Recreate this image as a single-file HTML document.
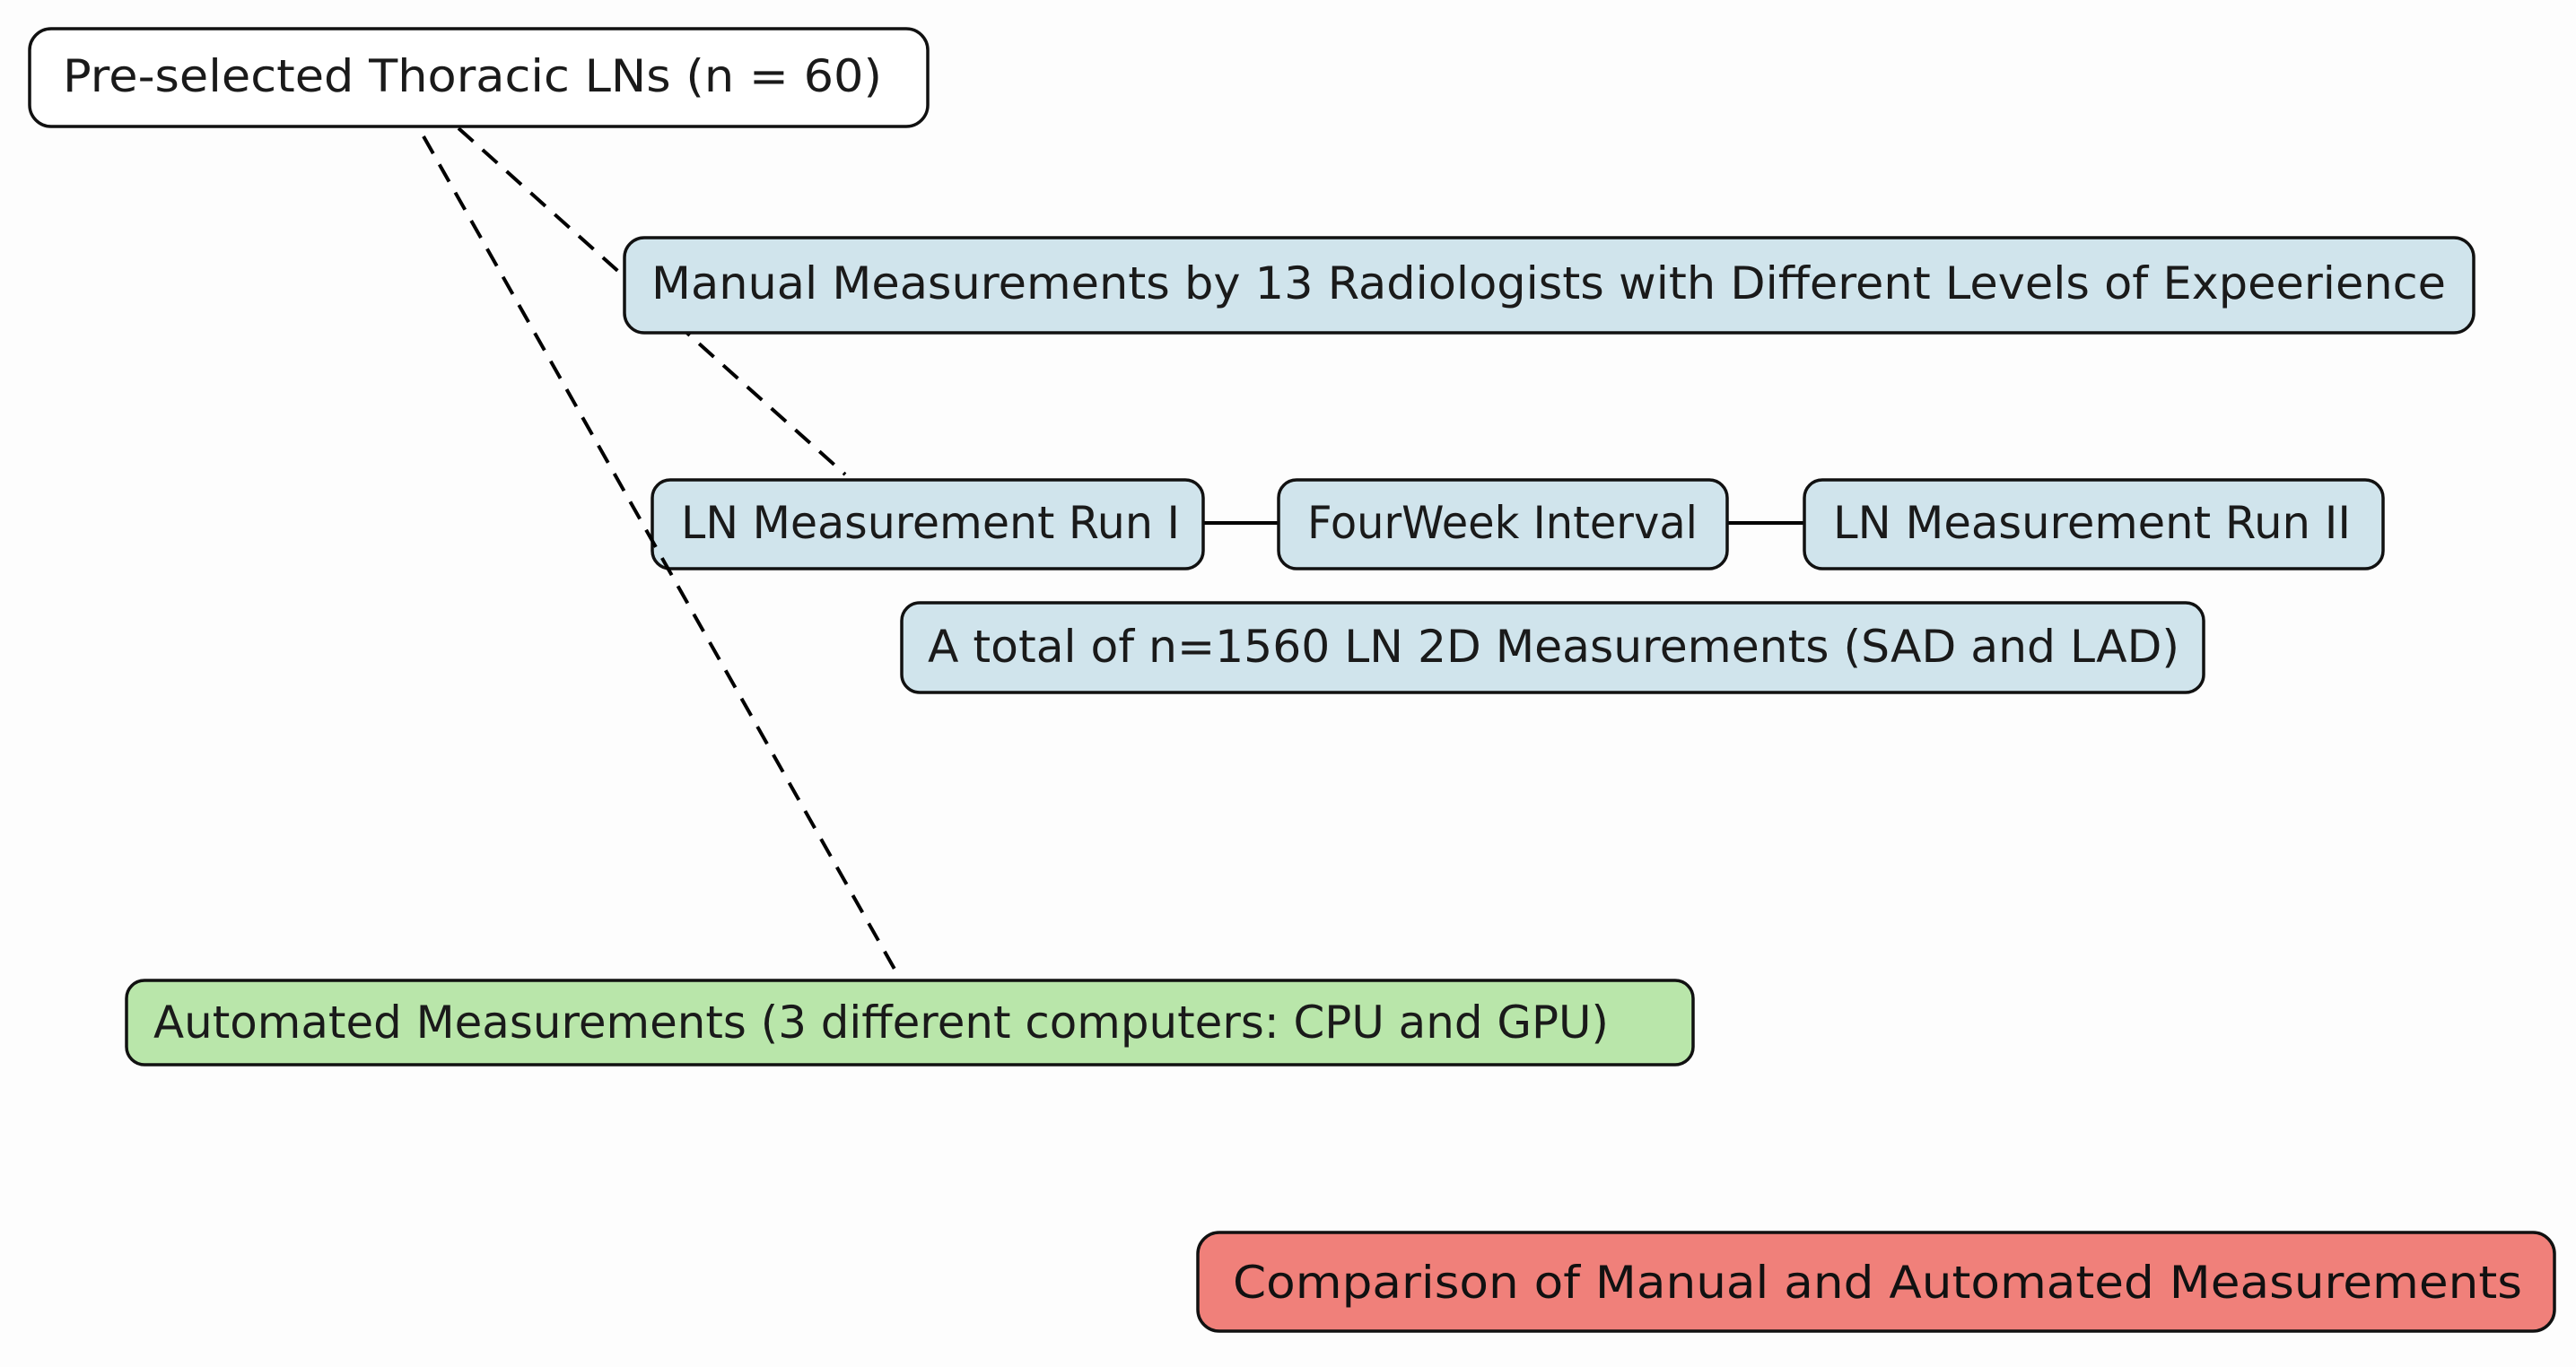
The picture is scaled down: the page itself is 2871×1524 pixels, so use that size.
<!DOCTYPE html>
<html><head><meta charset="utf-8"><style>
html,body{margin:0;padding:0;background:#fdfdfd;}
svg{display:block;}
text{font-family:"DejaVu Sans","Liberation Sans",sans-serif;font-size:50px;fill:#1a1a1a;dominant-baseline:central;}
</style></head><body>
<svg width="2871" height="1524" viewBox="0 0 2871 1524" xmlns="http://www.w3.org/2000/svg">
<rect width="2871" height="1524" fill="#fdfdfd"/>
<!-- line hidden behind manual box -->
<line x1="511" y1="143" x2="942" y2="529" stroke="#000" stroke-width="4" stroke-dasharray="22,14"/>
<!-- connectors -->
<line x1="1341" y1="583" x2="1425" y2="583" stroke="#000" stroke-width="4"/>
<line x1="1925" y1="583" x2="2011" y2="583" stroke="#000" stroke-width="4"/>
<g stroke="#111" stroke-width="3.5">
<rect x="33" y="32" width="1001" height="109" rx="24" fill="#ffffff"/>
<rect x="696" y="265" width="2061" height="106" rx="22" fill="#d0e4ec"/>
<rect x="727" y="535" width="614" height="99" rx="20" fill="#d0e4ec"/>
<rect x="1425" y="535" width="500" height="99" rx="20" fill="#d0e4ec"/>
<rect x="2011" y="535" width="645" height="99" rx="20" fill="#d0e4ec"/>
<rect x="1005" y="672" width="1451" height="100" rx="20" fill="#d0e4ec"/>
<rect x="141" y="1093" width="1746" height="94" rx="20" fill="#b9e6aa"/>
<rect x="1335" y="1374" width="1512" height="110" rx="24" fill="#f0807a"/>
</g>
<line x1="472" y1="152" x2="1003" y2="1091" stroke="#000" stroke-width="4" stroke-dasharray="22,14"/>
<text x="70" y="85" textLength="913" lengthAdjust="spacingAndGlyphs">Pre-selected Thoracic LNs (n = 60)</text>
<text x="726" y="316" textLength="2000" lengthAdjust="spacingAndGlyphs">Manual Measurements by 13 Radiologists with Different Levels of Expeerience</text>
<text x="759" y="583" textLength="556" lengthAdjust="spacingAndGlyphs">LN Measurement Run I</text>
<text x="1457" y="583" textLength="435" lengthAdjust="spacingAndGlyphs">FourWeek Interval</text>
<text x="2043" y="583" textLength="577" lengthAdjust="spacingAndGlyphs">LN Measurement Run II</text>
<text x="1034" y="721" textLength="1395" lengthAdjust="spacingAndGlyphs">A total of n=1560 LN 2D Measurements (SAD and LAD)</text>
<text x="171" y="1140" textLength="1622" lengthAdjust="spacingAndGlyphs">Automated Measurements (3 different computers: CPU and GPU)</text>
<text x="1374" y="1430" textLength="1437" lengthAdjust="spacingAndGlyphs" style="fill:#111">Comparison of Manual and Automated Measurements</text>
</svg>
</body></html>
